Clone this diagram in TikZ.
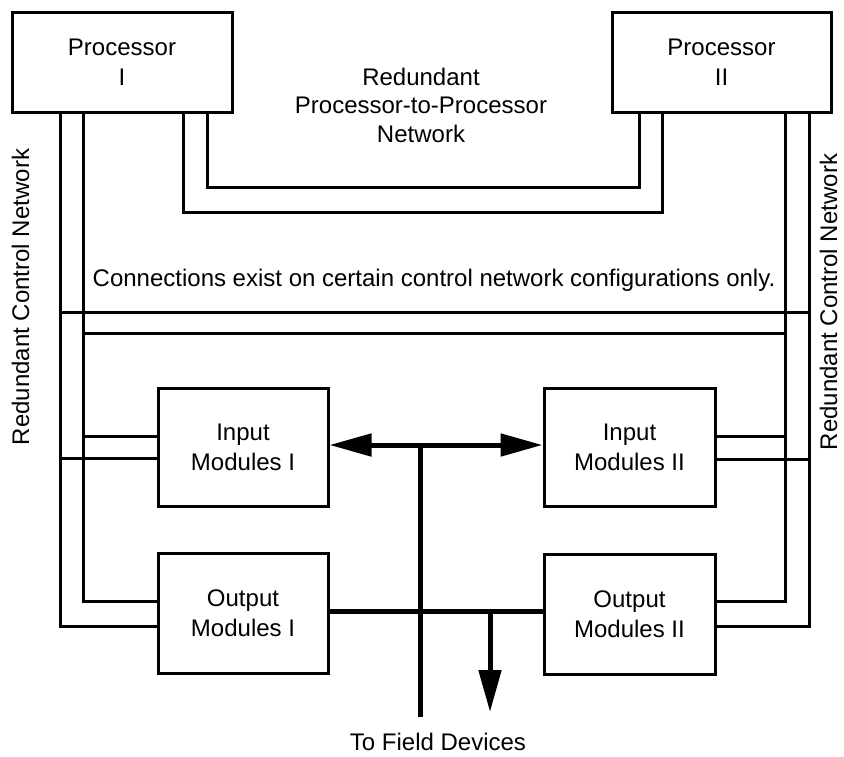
\documentclass[tikz,border=0pt]{standalone}
\usepackage{fontspec}
\setmainfont{Liberation Sans}
\usetikzlibrary{arrows.meta}
\begin{document}
\begin{tikzpicture}[x=1pt,y=-1pt,
  box/.style={draw,line width=3pt,inner sep=0pt,align=center,font=\fontsize{24}{30}\selectfont},
  wire/.style={line width=3pt},
  bus/.style={line width=5pt},
  lbl/.style={font=\fontsize{24}{28.5}\selectfont,inner sep=0pt,align=center},
  tip/.style={-{Triangle[length=42pt,width=22pt]}}]
\useasboundingbox[fill=white] (0,0) rectangle (844,756);
% boxes
\node[box,minimum width=220pt,minimum height=100pt] (p1) at (122,62) {Processor\\I};
\node[box,minimum width=219pt,minimum height=100pt] (p2) at (721.5,62) {Processor\\II};
\node[box,minimum width=170pt,minimum height=118pt] (im1) at (243,447) {Input\\Modules I};
\node[box,minimum width=170pt,minimum height=120pt] (om1) at (243,613) {Output\\Modules I};
\node[box,minimum width=171pt,minimum height=118pt] (im2) at (629.5,447) {Input\\Modules II};
\node[box,minimum width=171pt,minimum height=120pt] (om2) at (629.5,614) {Output\\Modules II};
% labels
\node[lbl,anchor=base] (rpn) at (421,142) {Redundant\\Processor-to-Processor\\Network};
\node[lbl,anchor=base] (cnote) at (434,286) {Connections exist on certain control network configurations only.};
\node[lbl,rotate=90,anchor=base] (rcl) at (29,297) {Redundant Control Network};
\node[lbl,rotate=90,anchor=base] (rcr) at (837,302) {Redundant Control Network};
\node[lbl,anchor=base] (fdl) at (438,750) {To Field Devices};
% processor-to-processor network
\draw[wire] (p1.south -| 207,0) |- (639,187) -- (p2.south -| 639,0);
\draw[wire] (p1.south -| 183,0) |- (662,212) -- (p2.south -| 662,0);
% left control network
\draw[wire] (p1.south -| 60,0) |- (om1.west |- 0,626);
\draw[wire] (p1.south -| 83,0) |- (om1.west |- 0,601);
\draw[wire] (im1.west |- 0,436) -- (83,436);
\draw[wire] (im1.west |- 0,458) -- (60,458);
% right control network
\draw[wire] (p2.south -| 809,0) |- (om2.east |- 0,626);
\draw[wire] (p2.south -| 785,0) |- (om2.east |- 0,601);
\draw[wire] (im2.east |- 0,436) -- (785,436);
\draw[wire] (im2.east |- 0,459) -- (809,459);
% optional cross connections
\coordinate (L1) at (60,312); \coordinate (R1) at (809,312);
\coordinate (L2) at (83,333); \coordinate (R2) at (785,333);
\draw[wire] (L1) -- (R1);
\draw[wire] (L2) -- (R2);
% field bus
\coordinate (hub) at (420,445);
\coordinate (fd) at (420,717);
\draw[bus,{Triangle[length=42pt,width=22pt]}-{Triangle[length=42pt,width=22pt]}] (im1.east |- hub) -- (im2.west |- hub);
\draw[bus] (hub) -- (fd);
\draw[bus] (om1.east |- 0,611) -- (om2.west |- 0,611);
\coordinate (dtop) at (490,611);
\coordinate (dtip) at (490,712);
\draw[bus,tip] (dtop) -- (dtip);
\end{tikzpicture}
\end{document}
